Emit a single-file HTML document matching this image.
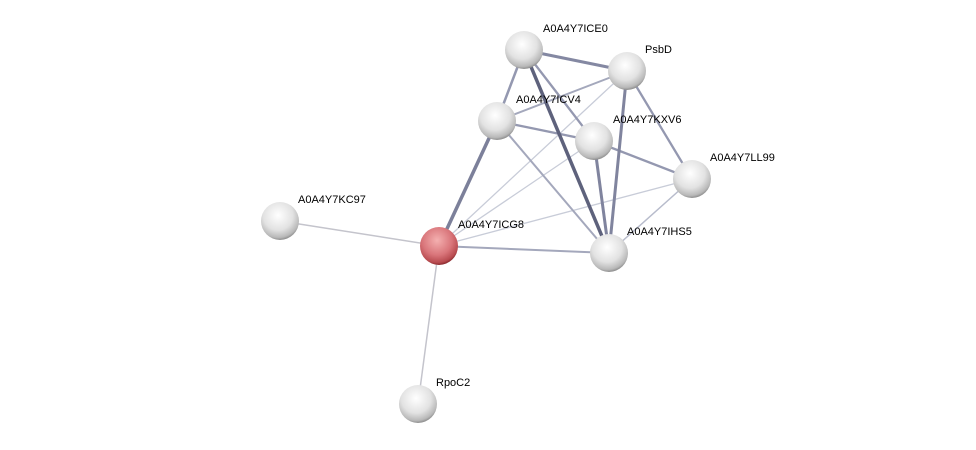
<!DOCTYPE html>
<html><head><style>
html,body{margin:0;padding:0;background:#fff;}
svg{display:block}
text{font-family:"Liberation Sans",sans-serif;font-size:11px;fill:#000}
</style></head><body>
<svg width="976" height="450" viewBox="0 0 976 450">
<defs>
<radialGradient id="g" cx="0.45" cy="0.35" r="0.65">
<stop offset="0" stop-color="#ffffff"/><stop offset="0.6" stop-color="#e2e2e2"/><stop offset="0.9" stop-color="#b8b8b8"/><stop offset="1" stop-color="#8e8e8e"/>
</radialGradient>
<radialGradient id="r" cx="0.45" cy="0.35" r="0.65">
<stop offset="0" stop-color="#f4b0b0"/><stop offset="0.6" stop-color="#d9757a"/><stop offset="0.9" stop-color="#b84b50"/><stop offset="1" stop-color="#8a2a2e"/>
</radialGradient>
</defs>
<g stroke-linecap="round">
<line x1="439" y1="246" x2="280" y2="221" stroke="#c4c4cc" stroke-width="1.5"/>
<line x1="439" y1="246" x2="418" y2="404" stroke="#c4c4cc" stroke-width="1.5"/>
<line x1="439" y1="246" x2="627" y2="71" stroke="#c8ccd8" stroke-width="1.3"/>
<line x1="439" y1="246" x2="594" y2="141" stroke="#c8ccd8" stroke-width="1.3"/>
<line x1="439" y1="246" x2="692" y2="179" stroke="#c8ccd8" stroke-width="1.3"/>
<line x1="692" y1="179" x2="609" y2="253" stroke="#b8bccc" stroke-width="1.5"/>
<line x1="439" y1="246" x2="609" y2="253" stroke="#a4a8bc" stroke-width="2"/>
<line x1="497" y1="121" x2="609" y2="253" stroke="#a4a8bc" stroke-width="2"/>
<line x1="497" y1="121" x2="594" y2="141" stroke="#9498b0" stroke-width="2.3"/>
<line x1="497" y1="121" x2="627" y2="71" stroke="#a4a8bc" stroke-width="2"/>
<line x1="594" y1="141" x2="692" y2="179" stroke="#9498b0" stroke-width="2.3"/>
<line x1="627" y1="71" x2="692" y2="179" stroke="#9498b0" stroke-width="2.3"/>
<line x1="594" y1="141" x2="609" y2="253" stroke="#80849e" stroke-width="3"/>
<line x1="627" y1="71" x2="609" y2="253" stroke="#80849e" stroke-width="3"/>
<line x1="524" y1="50" x2="594" y2="141" stroke="#9498b0" stroke-width="2.3"/>
<line x1="524" y1="50" x2="497" y2="121" stroke="#9498b0" stroke-width="2.5"/>
<line x1="524" y1="50" x2="627" y2="71" stroke="#8488a2" stroke-width="3"/>
<line x1="524" y1="50" x2="609" y2="253" stroke="#5e627c" stroke-width="3.5"/>
<line x1="439" y1="246" x2="497" y2="121" stroke="#7c809a" stroke-width="3.5"/>
</g>
<g>
<circle cx="524" cy="50" r="19" fill="url(#g)"/>
<circle cx="627" cy="71" r="19" fill="url(#g)"/>
<circle cx="497" cy="121" r="19" fill="url(#g)"/>
<circle cx="594" cy="141" r="19" fill="url(#g)"/>
<circle cx="692" cy="179" r="19" fill="url(#g)"/>
<circle cx="280" cy="221" r="19" fill="url(#g)"/>
<circle cx="439" cy="246" r="19" fill="url(#r)"/>
<circle cx="609" cy="253" r="19" fill="url(#g)"/>
<circle cx="418" cy="404" r="19" fill="url(#g)"/>
</g>
<text x="543" y="32">A0A4Y7ICE0</text>
<text x="645" y="53">PsbD</text>
<text x="516" y="103">A0A4Y7ICV4</text>
<text x="613" y="123">A0A4Y7KXV6</text>
<text x="710" y="161">A0A4Y7LL99</text>
<text x="298" y="203">A0A4Y7KC97</text>
<text x="458" y="228">A0A4Y7ICG8</text>
<text x="627" y="235">A0A4Y7IHS5</text>
<text x="436" y="386">RpoC2</text>
</svg>
</body></html>
